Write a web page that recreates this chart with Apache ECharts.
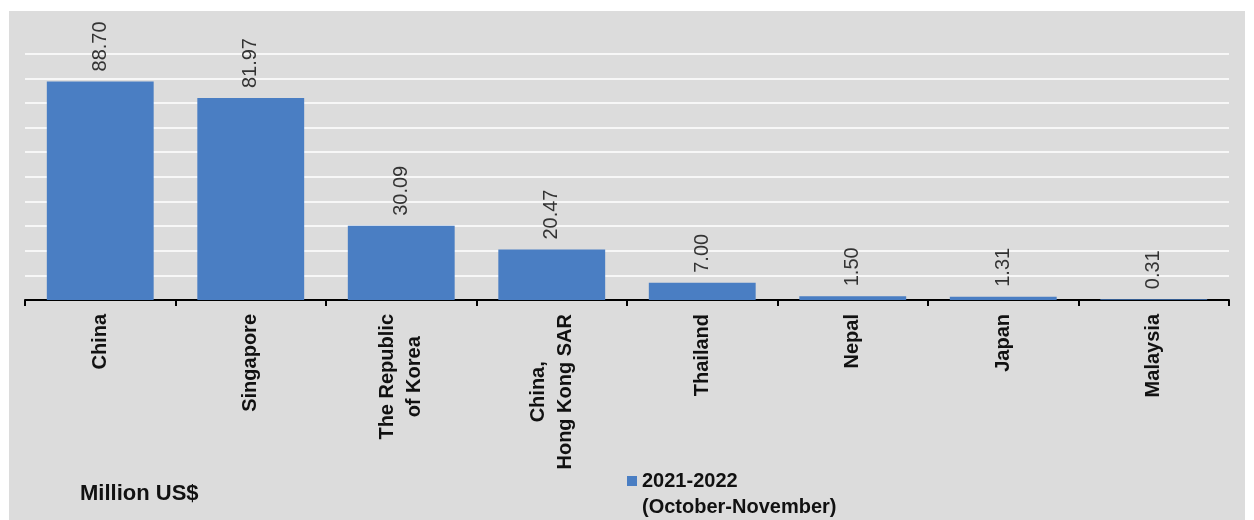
<!DOCTYPE html>
<html>
<head>
<meta charset="utf-8">
<script src="https://cdn.jsdelivr.net/npm/echarts@6/dist/echarts.min.js"></script>
<style>
  html, body { margin: 0; padding: 0; background: #ffffff; }
  #chart { width: 1254px; height: 520px; }
</style>
</head>
<body>
<div id="chart"></div>
<script>
// categories and values (Million US$)
const countries = [
  "China",
  "Singapore",
  "The Republic\nof Korea",
  "China,\nHong Kong SAR",
  "Thailand",
  "Nepal",
  "Japan",
  "Malaysia",
];
const values = [88.7, 81.97, 30.09, 20.47, 7.0, 1.5, 1.31, 0.31];
const seriesName = "2021-2022";
const seriesNote = "(October-November)";
const unitLabel = "Million US$";

const chart = echarts.init(document.getElementById("chart"));

const option = {
  animation: false,
  textStyle: { fontFamily: "Liberation Sans, Arial, sans-serif" },
  graphic: [
    {
      type: "rect",
      z: -10,
      shape: { x: 9, y: 11, width: 1236, height: 509 },
      style: { fill: "#dcdcdc" },
    },
    {
      // second line of the legend entry
      type: "text",
      left: 642,
      top: 497,
      style: {
        text: seriesNote,
        fontSize: 20,
        fontWeight: "bold",
        fill: "#111",
        fontFamily: "Liberation Sans, Arial, sans-serif",
      },
    },
  ],
  title: {
    text: unitLabel,
    left: 80,
    top: 483,
    padding: 0,
    textStyle: { fontSize: 22, fontWeight: "bold", color: "#111" },
  },
  legend: {
    data: [seriesName],
    left: 627,
    top: 471,
    padding: 0,
    itemWidth: 10,
    itemHeight: 10,
    itemGap: 5,
    icon: "rect",
    textStyle: { fontSize: 20, fontWeight: "bold", color: "#111" },
  },
  grid: {
    left: 25,
    right: 25,
    top: 29,
    bottom: 220,
  },
  xAxis: {
    type: "category",
    data: countries,
    axisLine: { lineStyle: { color: "#000", width: 2 } },
    axisTick: { show: true, length: 6, lineStyle: { color: "#000", width: 2 } },
    axisLabel: {
      rotate: 90,
      interval: 0,
      margin: 14,
      formatter: (v) => v.split("\n").map((s) => "{c|" + s + "}").join("\n"),
      rich: {
        c: {
          fontSize: 20,
          fontWeight: "bold",
          color: "#111",
          lineHeight: 27,
          align: "center",
        },
      },
    },
  },
  yAxis: {
    type: "value",
    min: 0,
    max: 110,
    interval: 10,
    axisLine: { show: false },
    axisTick: { show: false },
    axisLabel: { show: false },
    splitLine: {
      show: true,
      showMinLine: false,
      showMaxLine: false,
      lineStyle: { color: "#f7f7f7", width: 2 },
    },
  },
  series: [
    {
      name: seriesName,
      type: "bar",
      data: values,
      barCategoryGap: "29%",
      itemStyle: { color: "#4a7ec3" },
      label: {
        show: true,
        position: "top",
        rotate: 90,
        align: "left",
        verticalAlign: "middle",
        distance: 10,
        fontSize: 20,
        color: "#333",
        formatter: (p) => p.value.toFixed(2),
      },
    },
  ],
};

chart.setOption(option);
</script>
</body>
</html>
